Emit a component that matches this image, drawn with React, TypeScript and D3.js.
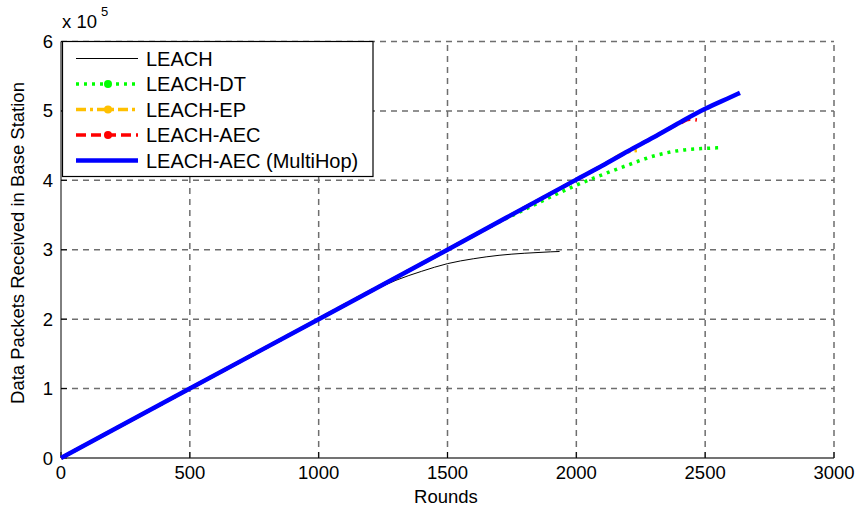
import React from "react";
import * as d3 from "d3";

// rounds vs data packets (in units of 1e5)
const leachRounds = [0, 250, 500, 750, 1000, 1100, 1200, 1300, 1400, 1500, 1600, 1700, 1800, 1900, 1935];
const leachPackets = [0, 0.5, 1.0, 1.5, 2.0, 2.2, 2.39, 2.56, 2.69, 2.8, 2.87, 2.92, 2.95, 2.97, 2.975];

const dtRounds = [0, 500, 1000, 1500, 1700, 1800, 1900, 2000, 2100, 2200, 2300, 2400, 2500, 2560];
const dtPackets = [0, 1.0, 2.0, 3.0, 3.4, 3.58, 3.76, 3.93, 4.08, 4.22, 4.35, 4.43, 4.46, 4.47];

const epRounds = [0, 500, 1000, 1500, 2000, 2100, 2200, 2235];
const epPackets = [0, 1.0, 2.0, 3.0, 4.01, 4.21, 4.41, 4.43];

const aecRounds = [0, 500, 1000, 1500, 2000, 2100, 2200, 2300, 2400, 2440, 2468];
const aecPackets = [0, 1.0, 2.0, 3.0, 4.01, 4.21, 4.42, 4.62, 4.82, 4.88, 4.87];

const mhRounds = [0, 500, 1000, 1500, 2000, 2100, 2200, 2300, 2400, 2500, 2600, 2635];
const mhPackets = [0, 1.0, 2.0, 3.0, 4.01, 4.21, 4.42, 4.62, 4.83, 5.03, 5.2, 5.26];

const xTicks = [0, 500, 1000, 1500, 2000, 2500, 3000];
const yTicks = [0, 1, 2, 3, 4, 5, 6];

const seriesNames = ["LEACH", "LEACH-DT", "LEACH-EP", "LEACH-AEC", "LEACH-AEC (MultiHop)"];

const series = [
  { name: seriesNames[0], rounds: leachRounds, values: leachPackets, color: "#000000", width: 1, dash: "", marker: false },
  { name: seriesNames[1], rounds: dtRounds, values: dtPackets, color: "#00ff00", width: 3.5, dash: "3,5", marker: true },
  { name: seriesNames[2], rounds: epRounds, values: epPackets, color: "#ffc000", width: 3.5, dash: "10,4,3,4", marker: true },
  { name: seriesNames[3], rounds: aecRounds, values: aecPackets, color: "#ff0000", width: 3.5, dash: "10,5", marker: true },
  { name: seriesNames[4], rounds: mhRounds, values: mhPackets, color: "#0000ff", width: 4.5, dash: "", marker: false },
];

const font = "'Liberation Sans', Arial, sans-serif";

export default function App() {
  const W = 861, H = 510;
  const left = 61, right = 834, top = 41.5, bottom = 458;
  const x = d3.scaleLinear().domain([0, 3000]).range([left, right]);
  const y = d3.scaleLinear().domain([0, 6]).range([bottom, top]);

  const line = d3.line<[number, number]>()
    .x((d) => x(d[0]))
    .y((d) => y(d[1]))
    .curve(d3.curveMonotoneX);

  const legendX = 62.5, legendY = 41.5, legendW = 310.5, legendH = 135;
  const rowY = [58.5, 84, 109.5, 135, 160.5];

  return (
    <svg
      width={W}
      height={H}
      style={{ position: "absolute", left: 0, top: 0, display: "block", background: "#fff" }}
      fontFamily={font}
    >
      {/* grid */}
      {xTicks.slice(1).map((t) => (
        <line key={"gx" + t} x1={x(t)} x2={x(t)} y1={bottom} y2={top} stroke="#6e6e6e" strokeWidth={1.5} strokeDasharray="6,5" />
      ))}
      {yTicks.slice(1).map((t) => (
        <line key={"gy" + t} x1={left} x2={right} y1={y(t)} y2={y(t)} stroke="#6e6e6e" strokeWidth={1.5} strokeDasharray="6,5" />
      ))}
      {/* axes */}
      <line x1={left} x2={left} y1={top} y2={bottom} stroke="#000" strokeWidth={1} />
      <line x1={left} x2={right} y1={bottom} y2={bottom} stroke="#444" strokeWidth={1.5} />
      {xTicks.map((t) => (
        <line key={"tx" + t} x1={x(t)} x2={x(t)} y1={bottom} y2={bottom - 6} stroke="#000" />
      ))}
      {yTicks.map((t) => (
        <line key={"ty" + t} x1={left} x2={left + 6} y1={y(t)} y2={y(t)} stroke="#000" />
      ))}
      {xTicks.map((t) => (
        <text key={"lx" + t} x={x(t)} y={479} textAnchor="middle" fontSize={18.5}>{t}</text>
      ))}
      {yTicks.map((t) => (
        <text key={"ly" + t} x={53} y={y(t) + 6.5} textAnchor="end" fontSize={18.5}>{t}</text>
      ))}
      <text x={62} y={28} fontSize={18.5}>x 10</text>
      <text x={101} y={16} fontSize={13}>5</text>
      <text x={446} y={503} textAnchor="middle" fontSize={18.5}>Rounds</text>
      <text transform={`translate(24,243) rotate(-90)`} textAnchor="middle" fontSize={18.5}>
        Data Packets Received in Base Station
      </text>

      {/* series */}
      {series.map((s) => (
        <path
          key={s.name}
          d={line(s.rounds.map((r, i) => [r, s.values[i]] as [number, number])) || ""}
          fill="none"
          stroke={s.color}
          strokeWidth={s.width}
          strokeDasharray={s.dash}
          strokeLinejoin="round"
        />
      ))}

      {/* legend */}
      <rect x={legendX} y={legendY} width={legendW} height={legendH} fill="#fff" stroke="#000" strokeWidth={1.2} />
      {series.map((s, i) => (
        <g key={"lg" + s.name}>
          <line x1={76} x2={138} y1={rowY[i]} y2={rowY[i]} stroke={s.color} strokeWidth={s.width} strokeDasharray={s.dash} />
          {s.marker && <circle cx={108} cy={rowY[i]} r={4} fill={s.color} />}
          <text x={146} y={rowY[i] + 7} fontSize={20}>{s.name}</text>
        </g>
      ))}
    </svg>
  );
}
